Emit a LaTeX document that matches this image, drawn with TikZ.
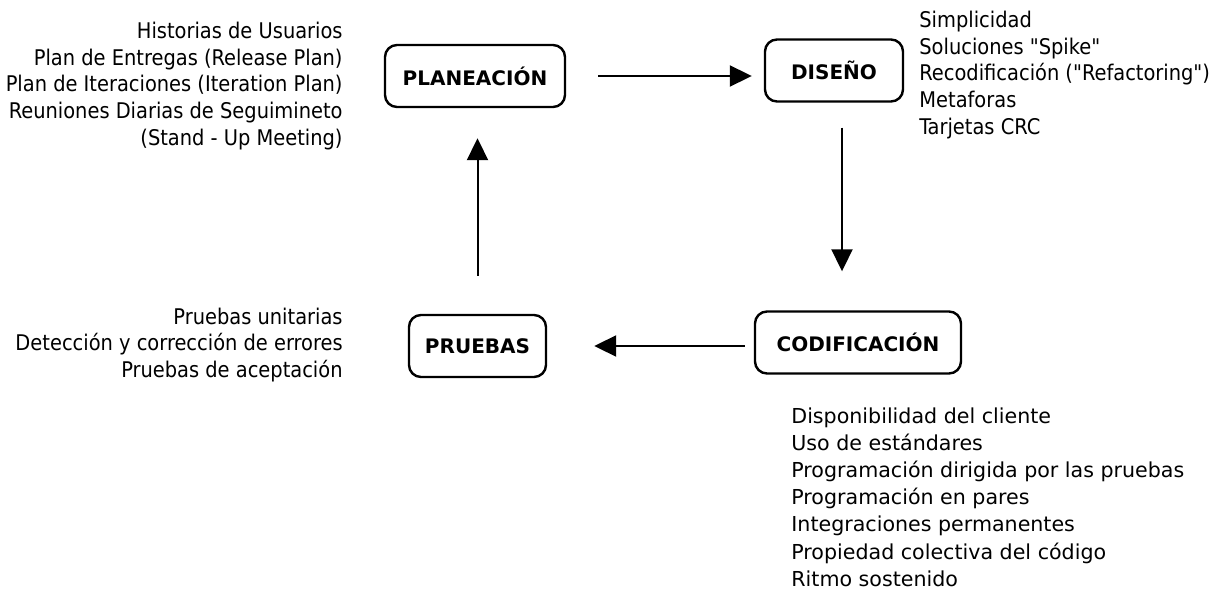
\documentclass[tikz,border=0pt]{standalone}
\usepackage{fontspec}
\setmainfont{DejaVu Sans}
\newfontfamily\condensada{DejaVu Sans Condensed}
\usetikzlibrary{arrows.meta}

\tikzset{
  etapa/.style={draw, line width=1.2pt, rounded corners=6pt, minimum width=#1, minimum height=31pt, font=\bfseries\fontsize{10}{12}\selectfont},
  notas/.style={inner sep=0pt, font=\condensada\fontsize{10.8}{13.3}\selectfont},
  lista/.style={inner sep=0pt, align=left, anchor=west, font=\fontsize{10.3}{13.6}\selectfont},
  flecha/.style={->, >={Triangle[length=11pt,width=10.5pt]}, line width=1pt},
}

\begin{document}
\begin{tikzpicture}[x=0.5pt, y=-0.5pt]
  \useasboundingbox (0,0) rectangle (1212,589);
  % etapas
  \node[etapa=90pt] (plan) at (475,76) {PLANEACIÓN};
  \node[etapa=69pt] (diseno) at (834,70.5) {DISEÑO};
  \node[etapa=103pt] (codif) at (858,342.5) {CODIFICACIÓN};
  \node[etapa=68.5pt] (pruebas) at (477.5,346) {PRUEBAS};
  % notas
  \node[notas, align=right, anchor=east] (nplan) at (343,86) {Historias de Usuarios\\Plan de Entregas (Release Plan)\\Plan de Iteraciones (Iteration Plan)\\Reuniones Diarias de Seguimineto\\(Stand - Up Meeting)};
  \node[notas, align=left, anchor=west] (ndiseno) at (919,75) {Simplicidad\\Soluciones "Spike"\\Recodificación ("Refactoring")\\Metaforas\\Tarjetas CRC};
  \node[notas, align=right, anchor=east] (npruebas) at (343,345) {Pruebas unitarias\\Detección y corrección de errores\\Pruebas de aceptación};
  \node[lista] (ncodif) at (791,497) {Disponibilidad del cliente\\Uso de estándares\\Programación dirigida por las pruebas\\Programación en pares\\Integraciones permanentes\\Propiedad colectiva del código\\Ritmo sostenido};
  % ciclo
  \draw[flecha] ([xshift=16pt]plan.east) -- ([xshift=-6pt]plan.east -| diseno.west);
  \draw[flecha] ([xshift=4pt,yshift=-12.5pt]diseno.south) -- ([xshift=4pt,yshift=19.5pt]diseno.south |- codif.north);
  \draw[flecha] ([xshift=-4.5pt]pruebas.east -| codif.west) -- ([xshift=23.5pt]pruebas.east);
  \draw[flecha] ([yshift=19pt]pruebas.north) -- ([yshift=-15pt]pruebas.north |- plan.south);
\end{tikzpicture}
\end{document}
